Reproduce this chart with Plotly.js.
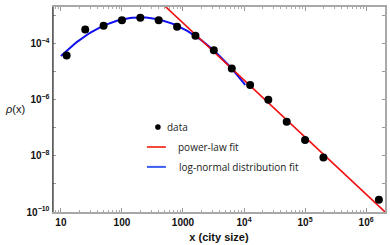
<!DOCTYPE html>
<html><head><meta charset="utf-8">
<script src="https://cdn.plot.ly/plotly-3.0.1.min.js"></script>
<style>html,body{margin:0;padding:0;background:#fff;}#chart{width:390px;height:245px;}</style>
</head><body><div id="chart"></div>
<script>
// Data
var citySize = [12.4, 25, 50, 100, 200, 400, 800, 1600, 3200, 6300, 12600, 25000, 50000, 100000, 200000, 1620000];
var density = [3.7e-5, 3.1e-4, 4.2e-4, 6.6e-4, 8.1e-4, 6.6e-4, 3.9e-4, 1.86e-4, 5.6e-5, 1.26e-5, 3.3e-6, 9.8e-7, 1.62e-7, 3.6e-8, 8.7e-9, 2.75e-10];

// Fit parameters (log10 space)
var powerLogC = 2.812, powerAlpha = 2.03;            // log10 rho = logC - alpha*log10 x
var powerRange = [2.5, 6.4];                          // log10 x extent of the drawn fit
var lnPeakLogX = 2.3, lnPeakLogY = -3.08, lnCurv = 0.81; // log-normal fit: parabola in log-log
var lnRange = [1.0, 4.02];

var xTickVals = [10, 100, 1000, 1e4, 1e5, 1e6];
var xTickText = ['10', '100', '1000', '10<sup>4</sup>', '10<sup>5</sup>', '10<sup>6</sup>'];
var yTickVals = [1e-10, 1e-9, 1e-8, 1e-7, 1e-6, 1e-5, 1e-4, 1e-3];
var yTickText = ['10<sup>−10</sup>', '', '10<sup>−8</sup>', '', '10<sup>−6</sup>', '', '10<sup>−4</sup>', ''];

var legendLabels = ['data', 'power-law fit', 'log-normal distribution fit'];

function sampleFit(range, n, f) {
  var xs = [], ys = [];
  for (var i = 0; i <= n; i++) {
    var lx = range[0] + (range[1] - range[0]) * i / n;
    xs.push(Math.pow(10, lx));
    ys.push(Math.pow(10, f(lx)));
  }
  return {x: xs, y: ys};
}
var pw = sampleFit(powerRange, 2, function (lx) { return powerLogC - powerAlpha * lx; });
var ln = sampleFit(lnRange, 80, function (lx) { return lnPeakLogY - lnCurv * Math.pow(lx - lnPeakLogX, 2); });

var traces = [
  {x: ln.x, y: ln.y, mode: 'lines', line: {color: '#1010f0', width: 2}, hoverinfo: 'none'},
  {x: pw.x, y: pw.y, mode: 'lines', line: {color: '#f01010', width: 1.6}, hoverinfo: 'none'},
  {x: citySize, y: density, mode: 'markers', marker: {color: '#000', size: 8}, hoverinfo: 'none'}
];

var tickFont = {family: 'Liberation Sans, Arial, sans-serif', size: 10, color: '#111', weight: 'bold'};
var legFont = {family: 'Open Sans, sans-serif', size: 10, color: '#222'};

var layout = {
  width: 390, height: 245,
  margin: {l: 53, r: 5, t: 7, b: 33},
  paper_bgcolor: '#fff', plot_bgcolor: '#fff',
  showlegend: false,
  xaxis: {
    type: 'log', range: [0.87, 6.31],
    tickmode: 'array', tickvals: xTickVals, ticktext: xTickText,
    ticks: 'inside', ticklen: 4, tickcolor: '#999', tickwidth: 1,
    minor: {dtick: 'D1', ticks: 'inside', ticklen: 2, tickcolor: '#aaa', showgrid: false},
    showline: true, linecolor: '#a8a8a8', linewidth: 2, mirror: 'ticks',
    showgrid: false, zeroline: false,
    tickfont: tickFont,
    title: {text: '<b>x (city size)</b>', font: {family: 'Liberation Sans, Arial, sans-serif', size: 11, color: '#111'}, standoff: 6}
  },
  yaxis: {
    type: 'log', range: [-10, -2.71],
    tickmode: 'array', tickvals: yTickVals, ticktext: yTickText,
    ticks: 'inside', ticklen: 3, tickcolor: '#999', tickwidth: 1,
    showline: true, linecolor: '#a8a8a8', linewidth: 1.5, mirror: 'ticks',
    showgrid: false, zeroline: false,
    tickfont: tickFont
  },
  shapes: [
    {type: 'line', xref: 'paper', yref: 'paper', x0: 0, x1: 0, y0: 0, y1: 1, line: {color: '#333', width: 1.2}},
    {type: 'line', xref: 'paper', yref: 'paper', x0: 0.283, x1: 0.340, y0: 0.317, y1: 0.317, line: {color: '#f54a3a', width: 2}},
    {type: 'line', xref: 'paper', yref: 'paper', x0: 0.283, x1: 0.340, y0: 0.220, y1: 0.220, line: {color: '#3a5cf0', width: 2}},
    {type: 'circle', xref: 'paper', yref: 'paper', xsizemode: 'pixel', ysizemode: 'pixel',
     xanchor: 0.316, yanchor: 0.415, x0: -2.8, x1: 2.8, y0: -2.8, y1: 2.8,
     fillcolor: '#000', line: {width: 0}}
  ],
  annotations: [
    {xref: 'paper', yref: 'paper', x: 0.337, y: 0.415, xanchor: 'left', yanchor: 'middle', showarrow: false, text: legendLabels[0], font: legFont},
    {xref: 'paper', yref: 'paper', x: 0.369, y: 0.317, xanchor: 'left', yanchor: 'middle', showarrow: false, text: legendLabels[1], font: legFont},
    {xref: 'paper', yref: 'paper', x: 0.372, y: 0.220, xanchor: 'left', yanchor: 'middle', showarrow: false, text: legendLabels[2], font: legFont},
    {xref: 'paper', yref: 'paper', x: -0.115, y: 0.503, xanchor: 'center', yanchor: 'middle', showarrow: false,
     text: '<i>ρ</i>(x)', font: {family: 'Liberation Sans, Arial, sans-serif', size: 11, color: '#111'}}
  ]
};

Plotly.newPlot('chart', traces, layout, {staticPlot: true, displayModeBar: false});
</script>
</body></html>
